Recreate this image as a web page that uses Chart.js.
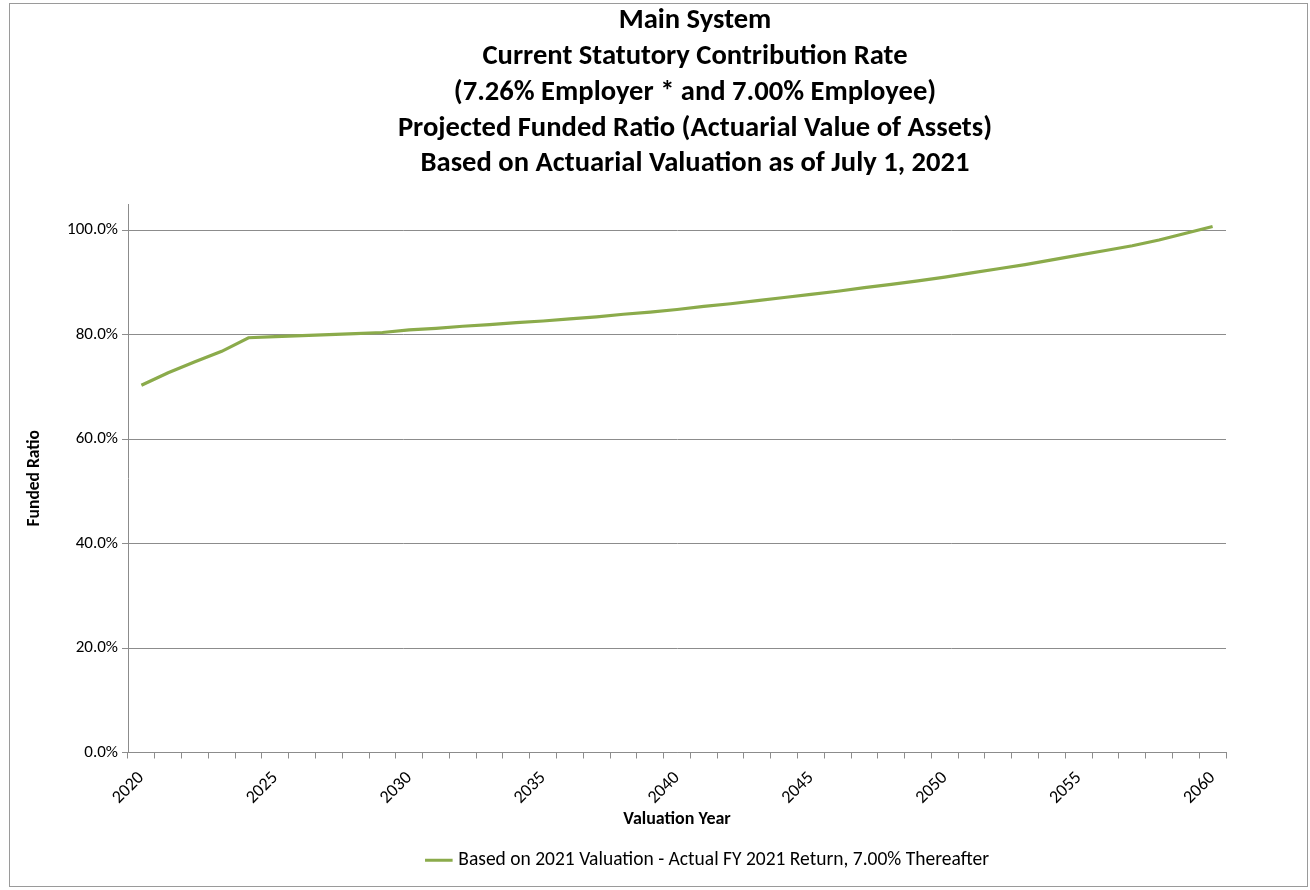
<!DOCTYPE html>
<html>
<head>
<meta charset="utf-8">
<script src="https://cdn.jsdelivr.net/npm/chart.js@4.4.1/dist/chart.umd.min.js"></script>
<style>
  html, body { margin: 0; padding: 0; background: #fff; }
  #wrap { position: absolute; left: 0; top: 0; width: 1310px; height: 890px; }
</style>
</head>
<body>
<div id="wrap"><canvas id="chart" width="1310" height="890"></canvas></div>
<script>
// Valuation years on the horizontal axis
const years = [
  2020, 2021, 2022, 2023, 2024, 2025, 2026, 2027, 2028, 2029,
  2030, 2031, 2032, 2033, 2034, 2035, 2036, 2037, 2038, 2039,
  2040, 2041, 2042, 2043, 2044, 2045, 2046, 2047, 2048, 2049,
  2050, 2051, 2052, 2053, 2054, 2055, 2056, 2057, 2058, 2059,
  2060
];

// Projected funded ratio (%), actuarial value of assets
const fundedRatio = [
  70.3, 72.7, 74.8, 76.8, 79.4, 79.6, 79.8, 80.0, 80.2, 80.4,
  80.9, 81.2, 81.6, 81.9, 82.3, 82.6, 83.0, 83.4, 83.9, 84.3,
  84.8, 85.4, 85.9, 86.5, 87.1, 87.7, 88.3, 89.0, 89.6, 90.3,
  91.0, 91.8, 92.6, 93.4, 94.3, 95.2, 96.1, 97.0, 98.1, 99.4,
  100.7
];

const titleLines = [
  'Main System',
  'Current Statutory Contribution Rate',
  '(7.26% Employer * and 7.00% Employee)',
  'Projected Funded Ratio (Actuarial Value of Assets)',
  'Based on Actuarial Valuation as of July 1, 2021'
];

const seriesLabel = 'Based on 2021 Valuation - Actual FY 2021 Return, 7.00% Thereafter';
const yTickValues = [0, 20, 40, 60, 80, 100];

const FONT = "Carlito, Calibri, 'Liberation Sans', Arial, sans-serif";
const GRID = '#8c8c8c';

// thin grey frame around the whole chart
const framePlugin = {
  id: 'frame',
  beforeDraw(chart) {
    const ctx = chart.ctx;
    ctx.save();
    ctx.fillStyle = '#ffffff';
    ctx.fillRect(0, 0, chart.width, chart.height);
    ctx.strokeStyle = '#9a9a9a';
    ctx.lineWidth = 1;
    ctx.strokeRect(9.5, 3.5, 1298, 883);
    ctx.restore();
  }
};

// five-line heading, centred a little right of the canvas middle
const headingPlugin = {
  id: 'heading',
  afterDraw(chart) {
    const ctx = chart.ctx;
    ctx.save();
    ctx.fillStyle = '#000';
    ctx.font = 'bold 28.6px ' + FONT;
    ctx.textAlign = 'center';
    ctx.textBaseline = 'middle';
    titleLines.forEach((line, i) => {
      ctx.fillText(line, 695, 21 + i * 35.8);
    });
    ctx.restore();
  }
};

// nudge the legend so it sits under the right-hand part of the plot
const legendShiftPlugin = {
  id: 'legendShift',
  afterLayout(chart) {
    const lg = chart.legend;
    if (lg) { lg.left += 96; lg.right += 96; }
  }
};

new Chart(document.getElementById('chart'), {
  type: 'line',
  data: {
    labels: years.map(String),
    datasets: [{
      label: seriesLabel,
      data: fundedRatio,
      borderColor: '#8bab4b',
      backgroundColor: '#8bab4b',
      borderWidth: 3.2,
      pointRadius: 0,
      tension: 0,
      fill: false
    }]
  },
  options: {
    responsive: false,
    animation: false,
    devicePixelRatio: 1,
    layout: { padding: { left: 0, right: 84, top: 204, bottom: 10 } },
    plugins: {
      title: { display: false },
      legend: {
        display: true,
        position: 'bottom',
        labels: {
          color: '#000',
          font: { family: FONT, size: 19.5 },
          usePointStyle: true,
          pointStyle: 'line',
          boxWidth: 33,
          padding: 12
        }
      },
      tooltip: { enabled: false }
    },
    scales: {
      x: {
        type: 'category',
        offset: true,
        border: { display: true, color: GRID, width: 1 },
        grid: {
          display: true,
          offset: true,
          drawOnChartArea: false,
          drawTicks: true,
          tickLength: 6,
          color: GRID
        },
        ticks: {
          autoSkip: false,
          maxRotation: 45,
          minRotation: 45,
          padding: 9,
          color: '#000',
          font: { family: FONT, size: 18 },
          callback(value, index) {
            const y = years[index];
            return y % 5 === 0 ? String(y) : '';
          }
        },
        title: {
          display: true,
          text: 'Valuation Year',
          color: '#000',
          font: { family: FONT, size: 18, weight: 'bold' },
          padding: { top: 0, bottom: 8 }
        },
        afterFit(scale) { scale.height = 86; }
      },
      y: {
        min: 0,
        max: 105,
        border: { display: true, color: GRID, width: 1 },
        grid: {
          color: GRID,
          drawTicks: true,
          tickLength: 6,
          lineWidth: 1
        },
        afterBuildTicks(scale) {
          scale.ticks = yTickValues.map(v => ({ value: v }));
        },
        ticks: {
          color: '#000',
          padding: 4,
          font: { family: FONT, size: 17 },
          callback(value) { return value.toFixed(1) + '%'; }
        },
        title: {
          display: true,
          text: 'Funded Ratio',
          color: '#000',
          font: { family: FONT, size: 17.5, weight: 'bold' },
          padding: { top: 24, bottom: 0 }
        },
        afterFit(scale) { scale.width = 128; }
      }
    }
  },
  plugins: [framePlugin, headingPlugin, legendShiftPlugin]
});
</script>
</body>
</html>
